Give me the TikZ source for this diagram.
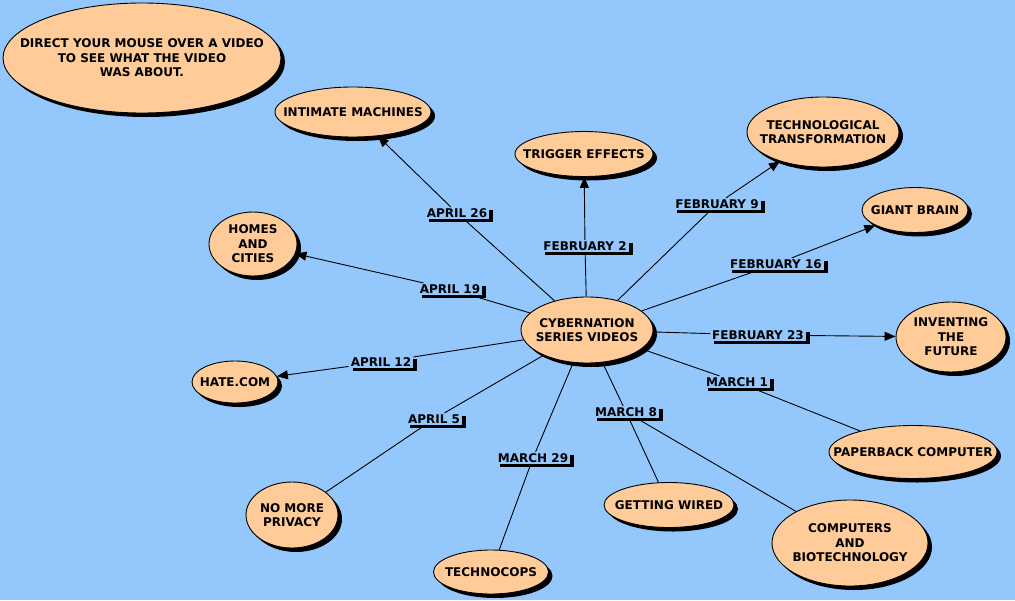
\documentclass[tikz,border=0pt]{standalone}
\usepackage{fontspec}
\setmainfont{DejaVu Sans}
\usetikzlibrary{shapes.geometric,shadows,arrows.meta}
\definecolor{bgblue}{RGB}{148,200,253}
\definecolor{peach}{RGB}{255,204,153}
\begin{document}
\begin{tikzpicture}[x=1pt,y=-1pt,
  every node/.style={font=\fontsize{12}{14.5}\selectfont\bfseries},
  topic/.style 2 args={ellipse, draw=black, line width=0.9pt, fill=peach, inner sep=0pt,
    minimum width=#1pt, minimum height=#2pt,
    drop shadow={shadow xshift=4pt, shadow yshift=-4pt, fill=black, opacity=1}},
  tx/.style={label={[align=center, inner sep=0pt]center:#1}},
  datebox/.style={fill=bgblue, inner xsep=2pt, inner ysep=1.5pt, text height=8.75pt, text depth=0pt,
    drop shadow={shadow xshift=4pt, shadow yshift=-3pt, fill=black, opacity=1}},
  link/.style={line width=0.9pt},
  arr/.style={link, -{Triangle[length=11pt,width=9pt]}}]
\useasboundingbox (0,0) rectangle (1015,600);
\fill[bgblue] (0,0) rectangle (1015,600);
% topics
\node[topic={278}{110}, tx={DIRECT YOUR MOUSE OVER A VIDEO\\TO SEE WHAT THE VIDEO\\WAS ABOUT.}] (info) at (142,58) {};
\node[topic={132}{66}, tx={CYBERNATION\\SERIES VIDEOS}] (c) at (587,330) {};
\node[topic={156}{50}, tx={INTIMATE MACHINES}] (intim) at (353,112) {};
\node[topic={138}{45}, tx={TRIGGER EFFECTS}] (trig) at (584,154) {};
\node[topic={152}{70}, tx={TECHNOLOGICAL\\TRANSFORMATION}] (tech) at (823,132) {};
\node[topic={106}{45}, tx={GIANT BRAIN}] (giant) at (915,210) {};
\node[topic={88}{64}, tx={HOMES\\AND\\CITIES}] (homes) at (253,244) {};
\node[topic={110}{70}, tx={INVENTING\\THE\\FUTURE}] (invent) at (951,337) {};
\node[topic={86}{42}, tx={HATE.COM}] (hate) at (235,382) {};
\node[topic={168}{53}, tx={PAPERBACK COMPUTER}] (paper) at (913,452) {};
\node[topic={92}{66}, tx={NO MORE\\PRIVACY}] (priv) at (292,515) {};
\node[topic={130}{45}, tx={GETTING WIRED}] (wired) at (669,505) {};
\node[topic={156}{86}, tx={COMPUTERS\\AND\\BIOTECHNOLOGY}] (bio) at (850,543) {};
\node[topic={115}{44}, tx={TECHNOCOPS}] (cops) at (491,572) {};
% dates
\node[datebox] (a26) at (457,213) {APRIL 26};
\node[datebox] (f2) at (585,246) {FEBRUARY 2};
\node[datebox] (f9) at (717,204) {FEBRUARY 9};
\node[datebox] (f16) at (776,264) {FEBRUARY 16};
\node[datebox] (a19) at (450,289) {APRIL 19};
\node[datebox] (f23) at (758,335) {FEBRUARY 23};
\node[datebox] (a12) at (381,362) {APRIL 12};
\node[datebox] (m1) at (737,382) {MARCH 1};
\node[datebox] (a5) at (434,419) {APRIL 5};
\node[datebox] (m8) at (626,412) {MARCH 8};
\node[datebox] (m29) at (533,458) {MARCH 29};
% connectors
\foreach \d in {a26,f2,f9,f16,a19,f23,a12,m1,a5,m8,m29}
  \draw[link] (c) -- (\d);
\draw[arr] (a26) -- (intim);
\draw[arr] (f2) -- (trig);
\draw[arr] (f9) -- (tech);
\draw[arr] (f16) -- (giant);
\draw[arr] (a19) -- (homes);
\draw[arr] (f23) -- (invent);
\draw[arr] (a12) -- (hate);
\draw[link] (m1) -- (paper);
\draw[link] (a5) -- (priv);
\draw[link] (m8) -- (wired);
\draw[link] (m8) -- (bio);
\draw[link] (m29) -- (cops);
\end{tikzpicture}
\end{document}
